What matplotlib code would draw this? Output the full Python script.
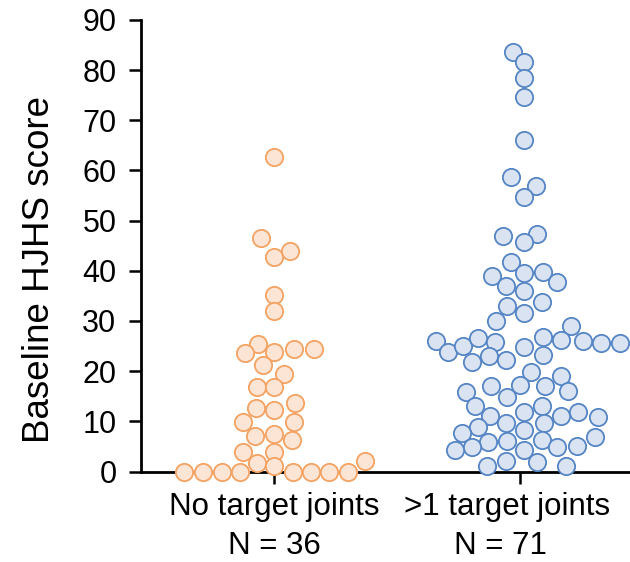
import numpy as np
from matplotlib import pyplot as plt
from matplotlib import transforms as mtransforms

plt.rcParams["font.family"] = ["Liberation Sans", "DejaVu Sans"]

# group labels
group_names = ["No target joints", ">1 target joints"]
group_n = ["N = 36", "N = 71"]

# baseline HJHS scores, no target joints
scores_none = [62.6, 46.5, 44.0, 42.8, 35.2, 32.0, 25.5, 23.7, 23.8, 24.4,
               24.4, 21.2, 19.4, 16.9, 16.9, 12.6, 12.3, 13.7, 9.8, 9.8,
               7.0, 7.4, 6.2, 3.8, 3.8, 1.6, 1.0, 2.1, 0, 0,
               0, 0, 0, 0, 0, 0]
# sideways swarm spread (pixels)
spread_none = [0, -12.7, 15.7, 0, 0, 0, -16, -28.7, 0, 19.7,
               39.7, -10.7, 10, -16.7, 0, -18, 0, 20.7, -31.3, 19.7,
               -19, 0, 18.3, -31.3, 0, -17.3, 0, 91, -89.7, -70.7,
               -52, -34.3, 18.7, 37, 54.7, 74.3]

# baseline HJHS scores, >1 target joints
scores_many = [83.6, 81.7, 78.5, 74.6, 66.0, 58.8, 56.9, 54.8, 46.9, 47.4,
               45.7, 41.8, 38.9, 39.6, 39.7, 37.8, 36.9, 36.0, 33.8, 33.0,
               31.6, 30.0, 29.0, 26.0, 23.8, 25.0, 26.6, 25.9, 21.9, 23.0,
               22.2, 24.8, 26.9, 23.2, 26.2, 26.0, 25.7, 25.7, 19.9, 19.1,
               17.2, 17.1, 16.0, 17.0, 15.9, 14.9, 13.1, 13.0, 11.9, 11.0,
               11.0, 11.9, 10.9, 9.7, 9.7, 8.9, 8.3, 7.7, 6.8, 5.9,
               6.0, 6.2, 4.8, 4.2, 4.2, 4.8, 5.0, 1.1, 2.0, 1.9,
               1.1]
spread_many = [-6.7, 4.3, 4.3, 4.3, 4.3, -8.7, 15.7, 4.3, -16.7, 17,
               4.3, -8.7, -28, 4.3, 22.7, 36.7, -14, 4.3, 22, -13.3,
               4.3, -24, 51.3, -84.3, -72.3, -57, -42.3, -24.7, -48, -30.7,
               -14, 4.3, 22.7, 22.7, 40.7, 63.3, 81, 100.3, 10.7, 40.7,
               0.3, 24.7, 48, -28.7, -54.3, -13.3, -44.7, 22, 4.3, -30,
               41.3, 58.3, 77.7, -14, 23.7, -41.7, 4.3, -57.7, 74.7, -31.7,
               -13.3, 22, -48, -65, 4.3, 37.3, 56.7, -32.7, -14, 17,
               46.3]

yticks = [0, 10, 20, 30, 40, 50, 60, 70, 80, 90]

px_per_group = 246.0

fig = plt.figure(figsize=(6.3, 5.62), dpi=100)
ax = fig.add_axes([140.7 / 630, 90.5 / 562, 489.3 / 630, 451.5 / 562])

x1 = 0 + np.array(spread_none) / px_per_group
x2 = 1 + np.array(spread_many) / px_per_group
ax.scatter(x1, scores_none, s=155, facecolor="#FCE5D4", edgecolor="#F4A262",
           linewidth=1.3, clip_on=False, zorder=3)
ax.scatter(x2, scores_many, s=155, facecolor="#D9E3F1", edgecolor="#5585C5",
           linewidth=1.3, clip_on=False, zorder=3)

ax.set_xlim(-0.542, 1.447)
ax.set_ylim(0, 90)
ax.set_yticks(yticks)
ax.set_xticks([0, 1])
ax.set_xticklabels(["", ""])
ax.spines["top"].set_visible(False)
ax.spines["right"].set_visible(False)
ax.spines["left"].set_linewidth(2.0)
ax.spines["bottom"].set_linewidth(2.0)
ax.tick_params(axis="both", length=8.5, width=1.8, color="black")
ax.tick_params(axis="y", labelsize=22, pad=9)

trans = mtransforms.blended_transform_factory(ax.transData, ax.transAxes)
ax.text(0, -0.0963, group_names[0], transform=trans, ha="center", va="baseline", fontsize=22.5)
ax.text(0.947, -0.0963, group_names[1], transform=trans, ha="center", va="baseline", fontsize=22.5)
ax.text(0, -0.183, group_n[0], transform=trans, ha="center", va="baseline", fontsize=22.5)
ax.text(0.919, -0.183, group_n[1], transform=trans, ha="center", va="baseline", fontsize=22.5)

fig.text(40 / 630, 1 - 269 / 562, "Baseline HJHS score", rotation=90,
         ha="center", va="center", fontsize=26.5)

fig.savefig("out.png", dpi=100)
